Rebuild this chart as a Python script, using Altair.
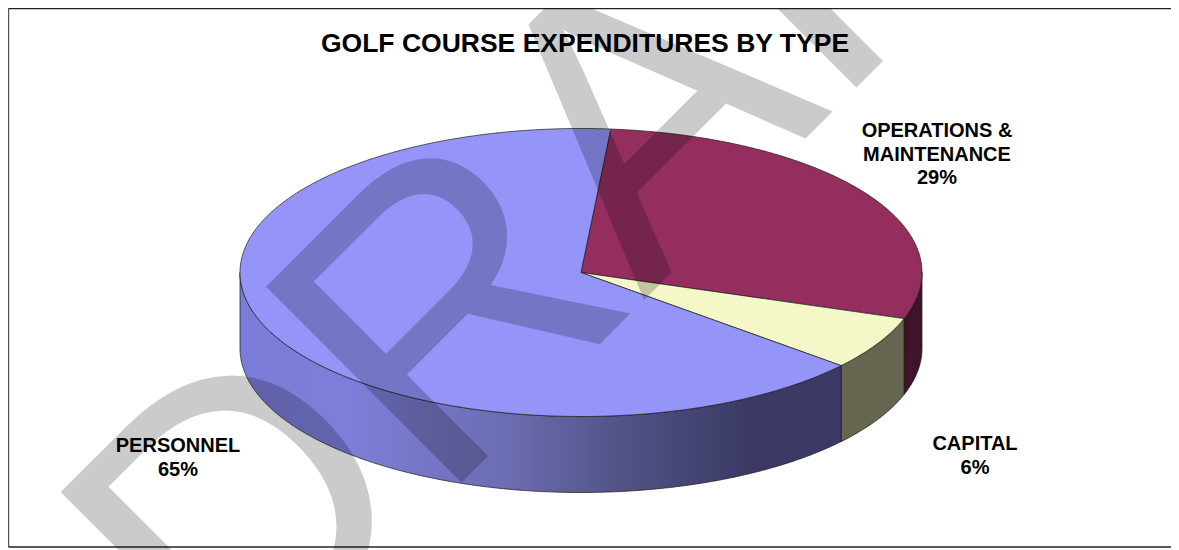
import math
import altair as alt

# ---- data ----
categories = ["OPERATIONS &\nMAINTENANCE", "CAPITAL", "PERSONNEL"]
values = [28.8, 6.0, 65.2]
top_colors = ["#932E5F", "#F6F7C8", "#9494F9"]
side_colors = ["#3D1429", "#666650", None]
title_text = "GOLF COURSE EXPENDITURES BY TYPE"
watermark_text = "DRAFT"

# ---- layout (chart coordinates = page pixels - 8) ----
W, H = 1163, 542
CX, CY, RX, RY, DEPTH = 573.0, 264.5, 341.0, 144.0, 76.0
START_DEG = 5.0
STEP = 0.5
FONT = "Liberation Sans"
label_pos = [(929, 129), (967, 442), (170, 444)]


def pt(deg, dy=0.0):
    a = math.radians(deg)
    return [CX + RX * math.sin(a), CY - RY * math.cos(a) + dy]


def arc(a, b):
    n = max(2, int(abs(b - a) / STEP) + 1)
    return [a + (b - a) * i / (n - 1) for i in range(n)]


def feature(ring):
    return {"type": "Feature", "properties": {},
            "geometry": {"type": "Polygon", "coordinates": [ring + [ring[0]]]}}


projection = alt.Projection(type="identity", scale=1, translate=[0, 0])
stops = [(0.0, "#7B7BD8"), (0.18, "#7E7EDA"), (0.45, "#6C6CB0"), (0.65, "#505084"),
         (0.85, "#3A3A64"), (1.0, "#3A3A64")]
side_gradient = alt.LinearGradient(
    gradient="linear", x1=0, x2=1, y1=0, y2=0,
    stops=[alt.GradientStop(offset=o, color=c) for o, c in stops],
)


def shape(ring, fill):
    return alt.Chart(alt.Data(values=[feature(ring)])).mark_geoshape(
        fill=fill, stroke="#1a1a1a", strokeWidth=0.7
    ).project(**projection.to_dict())


# angles of the slices from the values
total = sum(values)
bounds = [START_DEG]
for v in values:
    bounds.append(bounds[-1] + 360.0 * v / total)

sides, tops = [], []
for i, v in enumerate(values):
    a, b = bounds[i], bounds[i + 1]
    lo, hi = max(a, 90.0), min(b, 270.0)
    if lo < hi:
        front = [pt(d) for d in arc(lo, hi)]
        back = [pt(d, DEPTH) for d in arc(hi, lo)]
        sides.append(shape(front + back, side_colors[i] or side_gradient))
    tops.append(shape([[CX, CY]] + [pt(d) for d in arc(a, b)], top_colors[i]))

labels = []
for c, v, (lx, ly) in zip(categories, values, label_pos):
    labels.append(
        alt.Chart(alt.Data(values=[{"label": c + "\n" + str(round(v)) + "%"}]))
        .mark_text(font=FONT, fontSize=20, fontWeight="bold", color="black",
                   align="center", baseline="alphabetic", lineBreak="\n", lineHeight=23.5)
        .encode(text="label:N", x=alt.value(lx), y=alt.value(ly))
    )

title = (
    alt.Chart(alt.Data(values=[{"t": title_text}]))
    .mark_text(font=FONT, fontSize=26.5, fontWeight="bold", color="black",
               align="center", baseline="alphabetic")
    .encode(text="t:N", x=alt.value(577), y=alt.value(44))
)

watermark = (
    alt.Chart(alt.Data(values=[{"t": watermark_text}]))
    .mark_text(font=FONT, fontSize=402, color="black", opacity=0.2, angle=315,
               align="left", baseline="alphabetic")
    .encode(text="t:N", x=alt.value(225), y=alt.value(703))
)

frame = [
    alt.Chart(alt.Data(values=[{"a": 1}])).mark_rule(color="#555555", strokeWidth=1.5)
    .encode(x=alt.value(0.5), y=alt.value(0.5), y2=alt.value(539)),
    alt.Chart(alt.Data(values=[{"a": 1}])).mark_rule(color="#222222", strokeWidth=1.5)
    .encode(x=alt.value(0.5), x2=alt.value(W), y=alt.value(0.5)),
    alt.Chart(alt.Data(values=[{"a": 1}])).mark_rule(color="#222222", strokeWidth=1.5)
    .encode(x=alt.value(0.5), x2=alt.value(W), y=alt.value(539)),
]

chart = alt.layer(*frame, *sides, *tops, watermark, title, *labels).properties(
    width=W, height=H,
    padding=0,
    autosize=alt.AutoSizeParams(type="none"),
    background="white",
).configure_view(stroke=None)

chart.save("out.html", embed_options={"renderer": "svg", "actions": False})
